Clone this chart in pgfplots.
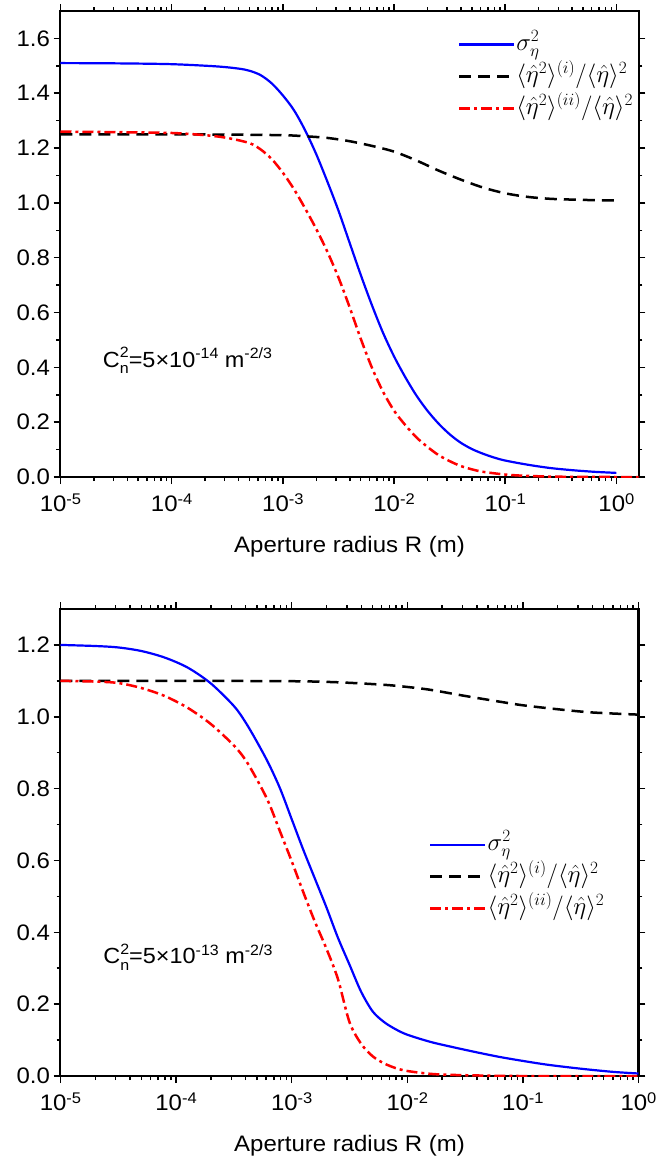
\documentclass[border=0pt]{standalone}
\usepackage{fontspec}
\setmainfont{Liberation Sans}[FakeStretch=1.07]
\usepackage{pgfplots}
\usepackage{pgfplotstable}
\pgfplotsset{compat=1.18}

\newcommand\tp[1]{10\raisebox{0.32em}{\fontsize{15.5}{15.5}\selectfont#1}}
\newcommand\cn[1]{C\makebox[0pt][l]{\raisebox{0.42em}{\fontsize{15}{15}\selectfont 2}}\raisebox{-0.3em}{\fontsize{15}{15}\selectfont n}=5×10\raisebox{0.4em}{\fontsize{15}{15}\selectfont -#1} m\raisebox{0.4em}{\fontsize{15}{15}\selectfont -2/3}}

\pgfplotstableread{
lx v
-5 1.510
-4.5 1.509
-4 1.506
-3.6 1.498
-3.4 1.490
-3.3 1.482
-3.2 1.466
-3.1 1.436
-3.0 1.392
-2.9 1.338
-2.8 1.265
-2.7 1.178
-2.6 1.078
-2.5 0.972
-2.4 0.855
-2.3 0.738
-2.2 0.628
-2.1 0.527
-2.0 0.440
-1.9 0.365
-1.8 0.298
-1.7 0.242
-1.6 0.195
-1.5 0.156
-1.4 0.125
-1.3 0.102
-1.2 0.085
-1.1 0.071
-1.0 0.060
-0.8 0.045
-0.6 0.033
-0.4 0.025
-0.2 0.019
0 0.015
}\topblue

\pgfplotstableread{
lx v
-5 1.250
-4 1.250
-3.5 1.249
-3 1.247
-2.8 1.243
-2.6 1.237
-2.4 1.225
-2.2 1.208
-2.0 1.187
-1.8 1.155
-1.6 1.118
-1.4 1.085
-1.2 1.056
-1.0 1.035
-0.8 1.022
-0.6 1.015
-0.4 1.012
-0.2 1.010
0 1.009
}\topblack

\pgfplotstableread{
lx v
-5 1.260
-4.5 1.258
-4 1.255
-3.7 1.247
-3.5 1.237
-3.3 1.218
-3.2 1.195
-3.1 1.160
-3.0 1.110
-2.9 1.050
-2.8 0.980
-2.7 0.905
-2.6 0.822
-2.5 0.728
-2.4 0.620
-2.3 0.505
-2.2 0.400
-2.1 0.312
-2.0 0.242
-1.9 0.190
-1.8 0.145
-1.7 0.110
-1.6 0.080
-1.5 0.058
-1.4 0.040
-1.3 0.028
-1.2 0.019
-1.0 0.009
-0.8 0.004
-0.5 0.001
0 0
0.2 0
}\topred

\pgfplotstableread{
lx v
-5 1.200
-4.7 1.197
-4.5 1.193
-4.3 1.183
-4.1 1.165
-3.9 1.137
-3.7 1.093
-3.5 1.030
-3.4 0.985
-3.3 0.930
-3.2 0.870
-3.1 0.800
-3.0 0.715
-2.9 0.630
-2.8 0.550
-2.7 0.470
-2.6 0.385
-2.5 0.310
-2.4 0.235
-2.3 0.180
-2.2 0.150
-2.1 0.130
-2.0 0.115
-1.8 0.095
-1.6 0.080
-1.4 0.066
-1.2 0.053
-1.0 0.042
-0.8 0.032
-0.6 0.024
-0.4 0.017
-0.2 0.011
0 0.007
}\botblue

\pgfplotstableread{
lx v
-5 1.100
-4 1.100
-3 1.099
-2.6 1.096
-2.2 1.089
-2.0 1.083
-1.8 1.075
-1.5 1.058
-1.2 1.042
-1.0 1.032
-0.7 1.021
-0.4 1.012
0 1.006
}\botblack

\pgfplotstableread{
lx v
-5 1.100
-4.7 1.098
-4.5 1.094
-4.3 1.080
-4.1 1.058
-3.9 1.025
-3.7 0.980
-3.5 0.920
-3.4 0.880
-3.3 0.825
-3.2 0.762
-3.1 0.680
-3.0 0.598
-2.9 0.512
-2.8 0.430
-2.7 0.355
-2.6 0.270
-2.5 0.150
-2.4 0.090
-2.3 0.055
-2.2 0.035
-2.1 0.022
-2.0 0.014
-1.8 0.006
-1.6 0.003
-1.3 0.001
-1.0 0
0 0
}\botred

\pgfplotsset{
  every axis/.append style={
    scale only axis,
    width=578bp,
    tick align=outside,
    major tick length=7bp,
    minor tick length=4bp,
    axis line style={line width=2bp},
    every tick/.style={line width=1.5bp, black},
    minor y tick num=1,
    tick label style={font=\fontsize{22.5}{26}\selectfont},
    xticklabel style={yshift=-6bp},
    yticklabel style={/pgf/number format/.cd, fixed, fixed zerofill, precision=1, assume math mode=true},
    xlabel style={font=\fontsize{22.5}{26}\selectfont, at={(axis description cs:0.5,0)}, anchor=center, yshift=-70bp},
    legend cell align=left,
    legend style={draw=none, fill=none, anchor=north west, inner sep=0pt, row sep=0pt,
      font=\fontsize{25}{29}\selectfont,
      nodes={inner sep=1bp, text height=21bp, text depth=9bp}},
  },
  legend image code/.code={\draw[#1] (0bp,0bp) -- (55bp,0bp);},
}
\tikzset{
  bl/.style={blue, line width=2.2bp, smooth},
  bk/.style={black, line width=2.5bp, dash pattern=on 12bp off 7bp, smooth},
  rd/.style={red, line width=2.5bp, dash pattern=on 11bp off 4bp on 3bp off 4bp, smooth},
}

\begin{document}
\begin{tikzpicture}
\useasboundingbox (0bp,0bp) rectangle (659bp,-1161bp);
\begin{semilogxaxis}[
  anchor=north west,
  at={(60.5bp,-11bp)},
  height=466bp,
  xmin=1e-5, xmax=1.58,
  ymin=0, ymax=1.7,
  xtick={1e-5,1e-4,1e-3,1e-2,1e-1,1},
  xticklabels={\tp{-5},\tp{-4},\tp{-3},\tp{-2},\tp{-1},\tp{0}},
  ytick={0,0.2,...,1.6},
  xlabel={Aperture radius R (m)},
  legend style={at={(rel axis cs:0.687,0.963)}},
]
\addplot[bl] table[x expr={10^(\thisrow{lx})}, y=v] {\topblue};
\addlegendentry{$\sigma_\eta^2$}
\addplot[bk] table[x expr={10^(\thisrow{lx})}, y=v] {\topblack};
\addlegendentry{$\langle\hat{\eta}^2\rangle^{(i)}/\langle\hat{\eta}\rangle^2$}
\addplot[rd] table[x expr={10^(\thisrow{lx})}, y=v] {\topred};
\addlegendentry{$\langle\hat{\eta}^2\rangle^{(ii)}/\langle\hat{\eta}\rangle^2$}
\node[anchor=west, font=\fontsize{22}{26}\selectfont, inner sep=0pt] at (axis cs:2.4e-5,0.425) {\cn{14}};
\end{semilogxaxis}
\begin{semilogxaxis}[
  anchor=north west,
  at={(60.5bp,-609bp)},
  height=467bp,
  xmin=1e-5, xmax=1,
  ymin=0, ymax=1.3,
  xtick={1e-5,1e-4,1e-3,1e-2,1e-1,1},
  xticklabels={\tp{-5},\tp{-4},\tp{-3},\tp{-2},\tp{-1},\tp{0}},
  ytick={0,0.2,...,1.2},
  xlabel={Aperture radius R (m)},
  legend style={at={(rel axis cs:0.6375,0.53)}},
]
\addplot[bl] table[x expr={10^(\thisrow{lx})}, y=v] {\botblue};
\addlegendentry{$\sigma_\eta^2$}
\addplot[bk] table[x expr={10^(\thisrow{lx})}, y=v] {\botblack};
\addlegendentry{$\langle\hat{\eta}^2\rangle^{(i)}/\langle\hat{\eta}\rangle^2$}
\addplot[rd] table[x expr={10^(\thisrow{lx})}, y=v] {\botred};
\addlegendentry{$\langle\hat{\eta}^2\rangle^{(ii)}/\langle\hat{\eta}\rangle^2$}
\node[anchor=west, font=\fontsize{22}{26}\selectfont, inner sep=0pt] at (axis cs:2.34e-5,0.33) {\cn{13}};
\end{semilogxaxis}
\end{tikzpicture}
\end{document}
